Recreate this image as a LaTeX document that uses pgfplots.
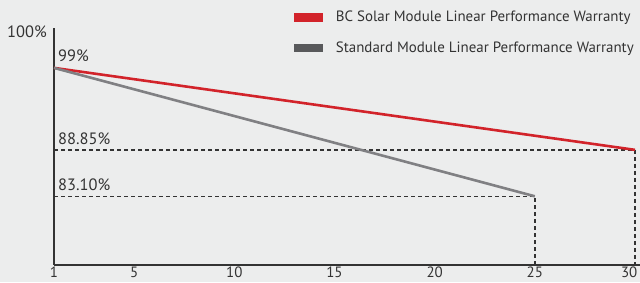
\documentclass[border=0pt]{standalone}
\usepackage{fontspec}
\setmainfont{PT Sans}
\usepackage{pgfplots}
\pgfplotsset{compat=1.18}
\definecolor{bcred}{HTML}{D2232A}
\definecolor{stdgray}{HTML}{808083}
\definecolor{leggray}{HTML}{58595B}
\definecolor{bg}{HTML}{ECEDED}
\definecolor{txt}{HTML}{333333}
\begin{document}
\begin{tikzpicture}[x=1bp,y=1bp]
\fill[bg] (0,0) rectangle (640,282);
\begin{axis}[
  at={(54bp,17bp)}, anchor=south west,
  scale only axis, width=587bp, height=237bp,
  xmin=1, xmax=30.3, ymin=74.59, ymax=103.94,
  axis x line*=bottom, axis y line*=left,
  axis line style={-, line width=1.3bp, color=txt},
  xtick={1,5,10,15,20,25}, ytick=\empty,
  extra x ticks={30},
  extra x tick style={xticklabel style={anchor=north east, xshift=4bp}},
  major tick length=0pt,
  /pgf/number format/assume math mode=true,
  xticklabel style={font=\fontsize{15}{18}\selectfont, text=txt, inner sep=1.5bp},
  clip=false,
  legend style={at={(axis description cs:0.409,1.0717)}, anchor=north west,
    draw=none, fill=none, inner sep=0pt, column sep=0pt, row sep=18.5bp,
    font=\fontsize{15}{17}\selectfont, text=txt,
    nodes={inner sep=0pt, anchor=west}},
  legend cell align=left,
]
\addplot[txt, line width=1.4bp, dash pattern=on 4bp off 3bp, forget plot] coordinates {(1,88.85) (30,88.85) (30,74.59)};
\addplot[txt, line width=1.4bp, dash pattern=on 4bp off 3bp, forget plot] coordinates {(1,83.10) (25,83.10) (25,74.59)};
\addplot[bcred, line width=2.6bp, legend image code/.code={\fill[bcred] (0bp,-3bp) rectangle (26bp,3bp); \path (38bp,0bp);}] coordinates {(1,99) (30,88.85)};
\addlegendentry{BC Solar Module Linear Performance Warranty}
\addplot[stdgray, line width=2.6bp, legend image code/.code={\fill[leggray] (0bp,-3bp) rectangle (26bp,3bp); \path (39bp,0bp);}] coordinates {(1,99) (25,83.10)};
\addlegendentry{Standard Module Linear Performance Warranty}
\node[anchor=base west, inner sep=0pt, xshift=4bp, yshift=6bp, text=txt, font=\fontsize{16.5}{19}\selectfont] at (axis cs:1,99) {99\%};
\node[anchor=base west, inner sep=0pt, xshift=4bp, yshift=5bp, text=txt, font=\fontsize{16.5}{19}\selectfont] at (axis cs:1,88.85) {88.85\%};
\node[anchor=base west, inner sep=0pt, xshift=4bp, yshift=5.5bp, text=txt, font=\fontsize{16.5}{19}\selectfont] at (axis cs:1,83.10) {83.10\%};
\node[anchor=east, inner sep=0pt, xshift=-7bp, yshift=-4bp, text=txt, font=\fontsize{16.5}{19}\selectfont] at (rel axis cs:0,1) {100\%};
\end{axis}
\pgfresetboundingbox
\path[use as bounding box] (0,0) rectangle (640,282);
\end{tikzpicture}
\end{document}
